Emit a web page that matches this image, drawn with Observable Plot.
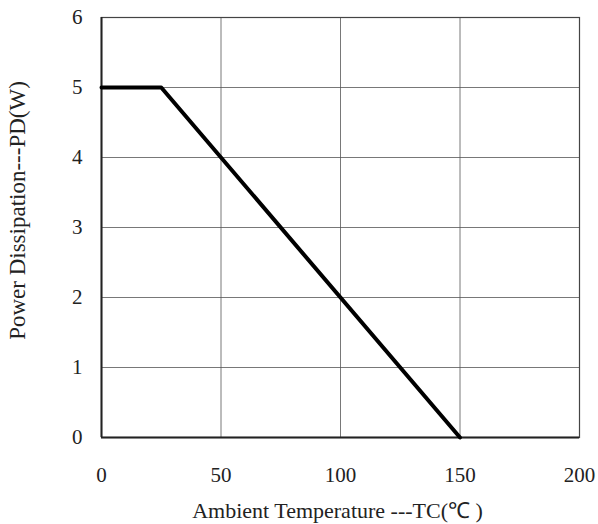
<!DOCTYPE html>
<html><head><meta charset="utf-8">
<script src="https://cdn.jsdelivr.net/npm/d3@7"></script>
<script src="https://cdn.jsdelivr.net/npm/@observablehq/plot@0.6"></script>
<style>body{margin:0;background:#fff}</style>
</head><body><div id="c"></div>
<script>
const temps = [0, 25, 150];
const power = [5, 5, 0];
const xTicks = [0, 50, 100, 150, 200];
const yTicks = [0, 1, 2, 3, 4, 5, 6];
const xTitle = "Ambient Temperature ---TC(℃ )";
const yTitle = "Power Dissipation---PD(W)";
const data = temps.map((t, i) => ({t, p: power[i]}));
const font = "'Liberation Serif', 'Times New Roman', serif";
const chart = Plot.plot({
  width: 598, height: 524,
  marginLeft: 101, marginRight: 19, marginTop: 17, marginBottom: 87,
  style: {fontFamily: font, fontSize: "21px", color: "#222", background: "#fff"},
  x: {domain: [0, 200], ticks: xTicks},
  y: {domain: [0, 6], ticks: yTicks},
  marks: [
    Plot.gridX(xTicks, {stroke: "#555", strokeOpacity: 1, strokeWidth: 0.8}),
    Plot.gridY(yTicks, {stroke: "#555", strokeOpacity: 1, strokeWidth: 0.8}),
    Plot.frame({stroke: "#444", strokeWidth: 1.2}),
    Plot.ruleX([0], {stroke: "#222", strokeWidth: 2}),
    Plot.ruleY([0], {stroke: "#222", strokeWidth: 2}),
    Plot.axisX(xTicks, {tickSize: 0, tickPadding: 30, fontSize: 21, tickFormat: d3.format("d"), label: null}),
    Plot.axisY(yTicks, {tickSize: 0, tickPadding: 19, fontSize: 21, tickFormat: d3.format("d"), label: null}),
    Plot.text([xTitle], {frameAnchor: "bottom", dy: 80, dx: -3, fontSize: 22, fill: "#222"}),
    Plot.text([yTitle], {frameAnchor: "left", textAnchor: "middle", rotate: -90, dx: -84, dy: -17, fontSize: 23, fill: "#222"}),
    Plot.line(data, {x: "t", y: "p", stroke: "#000", strokeWidth: 4})
  ]
});
document.getElementById("c").appendChild(chart);
</script></body></html>
